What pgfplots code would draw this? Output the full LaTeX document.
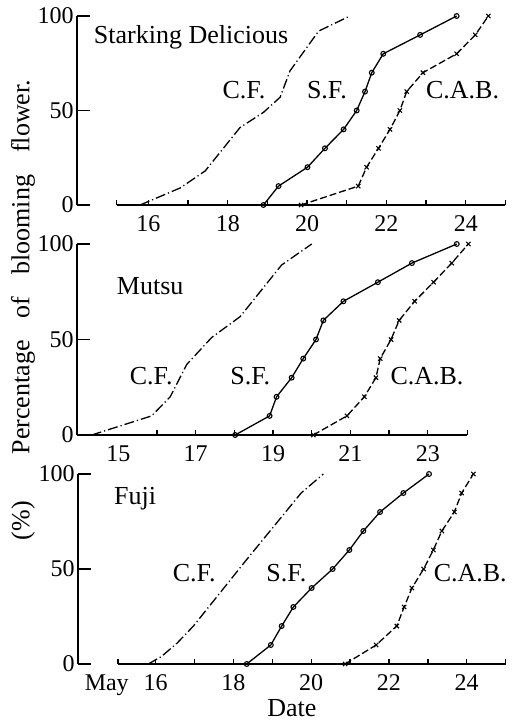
\documentclass[border=0pt]{standalone}
\usepackage{fontspec}
\setmainfont{Liberation Serif}
\usepackage{pgfplots}
\pgfplotsset{compat=1.18}

\newcommand{\lab}{\fontsize{13}{13}\selectfont}

\tikzset{frame/.style={line width=0.9pt, black}}

\pgfplotsset{
  bloom/.style={
    scale only axis, clip=false, anchor=south west,
    axis line style={draw=none}, tick style={draw=none},
    ymin=0, ymax=100, ytick={0,50,100},
    tick label style={font=\fontsize{12}{12}\selectfont},
    /pgf/number format/assume math mode=true,
    yticklabel style={inner sep=1.5pt},
    xticklabel style={inner sep=0pt, yshift=-5pt},
  },
  cf/.style={black, line width=0.65pt, dash pattern=on 5pt off 1.5pt on 0.6pt off 1.5pt, mark=none},
  sf/.style={black, line width=0.65pt, solid, mark=o, mark size=1.2pt, mark options={solid, line width=0.55pt}},
  cab/.style={black, line width=0.65pt, dash pattern=on 3.5pt off 1.5pt, mark=x, mark size=1.5pt, mark options={solid, line width=0.55pt}},
}

% y axis line at x=#1 with inward ticks of length #2 (in days)
\newcommand{\yframe}[2]{%
  \draw[frame] (axis cs:#1,0) -- (axis cs:#1,100);
  \draw[frame] (axis cs:#1,0) -- (axis cs:#2,0);
  \draw[frame] (axis cs:#1,50) -- (axis cs:#2,50);
  \draw[frame] (axis cs:#1,100) -- (axis cs:#2,100);
}

\begin{document}
\begin{tikzpicture}

% Starking Delicious
\begin{axis}[bloom, at={(38.5pt,-102.5pt)}, width=216.2pt, height=94.5pt,
    xmin=14.2, xmax=25.1, xtick={16,18,...,24}]
\yframe{14.2}{14.53}
\draw[frame] (axis cs:15.2,0) -- (axis cs:25,0);
\pgfplotsinvokeforeach{15.2,16,17,18,19,20,21,22,23,24,25}{
  \draw[line width=0.7pt] (axis cs:#1,0) -- (axis cs:#1,2.7);
}
\addplot[cf] coordinates {(15.79,0) (16.80,9) (17.43,18) (18.31,41) (18.90,49) (19.32,57) (19.57,71) (20.29,92) (21.08,100)};
\addplot[sf] coordinates {(18.90,0) (19.28,10) (20.01,20) (20.45,30) (20.92,40) (21.25,50) (21.46,60) (21.63,70) (21.92,80) (22.85,90) (23.77,100)};
\addplot[cab] coordinates {(19.85,0) (21.29,10) (21.50,20) (21.80,30) (22.09,40) (22.34,50) (22.51,60) (22.92,70) (23.77,80) (24.24,90) (24.57,100)};
\node[font=\lab, anchor=base west] at (axis cs:14.45,85.7) {Starking Delicious};
\node[font=\lab, anchor=base] at (axis cs:18.41,56.1) {C.F.};
\node[font=\lab, anchor=base] at (axis cs:20.50,56.1) {S.F.};
\node[font=\lab, anchor=base] at (axis cs:23.92,56.1) {C.A.B.};
\end{axis}

% Mutsu
\begin{axis}[bloom, at={(38.5pt,-217.5pt)}, width=195.1pt, height=95.5pt,
    xmin=13.93, xmax=24.02, xtick={15,17,...,23}]
\yframe{13.93}{14.27}
\draw[frame] (axis cs:13.93,0) -- (axis cs:24.02,0);
\pgfplotsinvokeforeach{16,17,18,19,20,21,22,23,24.02}{
  \draw[line width=0.7pt] (axis cs:#1,0) -- (axis cs:#1,2.6);
}
\addplot[cf] coordinates {(14.31,0) (15.86,10) (16.34,20) (16.77,37) (17.41,51) (18.15,62) (19.22,89) (20.00,100)};
\addplot[sf] coordinates {(18.02,0) (18.91,10) (19.09,20) (19.48,30) (19.78,40) (20.11,50) (20.30,60) (20.82,70) (21.71,80) (22.59,90) (23.75,100)};
\addplot[cab] coordinates {(20.04,0) (20.91,10) (21.36,20) (21.66,30) (21.77,40) (22.05,50) (22.26,60) (22.66,70) (23.15,80) (23.62,90) (24.05,100)};
\node[font=\lab, anchor=base west] at (axis cs:14.78,73.8) {Mutsu};
\node[font=\lab, anchor=base] at (axis cs:15.85,26.7) {C.F.};
\node[font=\lab, anchor=base] at (axis cs:18.41,26.7) {S.F.};
\node[font=\lab, anchor=base] at (axis cs:22.98,26.7) {C.A.B.};
\end{axis}

% Fuji
\begin{axis}[bloom, at={(39pt,-332pt)}, width=213.8pt, height=95pt,
    xmin=14, xmax=25, xtick={16,18,...,24},
    xticklabels={\llap{May\hspace{7.5pt}}16,18,20,22,24},
    xlabel={Date}, xlabel style={font=\lab, inner sep=0pt, yshift=-2pt}]
\yframe{14}{14.33}
\draw[frame] (axis cs:15.03,0) -- (axis cs:25,0);
\pgfplotsinvokeforeach{15.03,16,17,18,19,20,21,22,23,24,25}{
  \draw[line width=0.7pt] (axis cs:#1,0) -- (axis cs:#1,2.6);
}
\addplot[cf] coordinates {(15.81,0) (16.15,4) (16.55,11) (16.97,20) (18.34,55) (19.74,90) (20.31,100)};
\addplot[sf] coordinates {(18.34,0) (18.96,10) (19.24,20) (19.54,30) (20.01,40) (20.55,50) (20.98,60) (21.34,70) (21.77,80) (22.37,90) (23.03,100)};
\addplot[cab] coordinates {(20.87,0) (21.67,10) (22.20,20) (22.39,30) (22.59,40) (22.89,50) (23.14,60) (23.36,70) (23.68,80) (23.87,90) (24.17,100)};
\node[font=\lab, anchor=base west] at (axis cs:14.75,83.7) {Fuji};
\node[font=\lab, anchor=base] at (axis cs:16.99,43.2) {C.F.};
\node[font=\lab, anchor=base] at (axis cs:19.36,43.2) {S.F.};
\node[font=\lab, anchor=base] at (axis cs:24.09,43.2) {C.A.B.};
\end{axis}

\node[rotate=90, font=\lab] at (11.5pt,-155pt) {(\%)\hspace{1.8em}Percentage\hspace{0.85em}of\hspace{0.85em}blooming\hspace{0.85em}flower.};

\pgfresetboundingbox
\useasboundingbox (0,0) rectangle (256pt,-360.5pt);
\end{tikzpicture}
\end{document}
